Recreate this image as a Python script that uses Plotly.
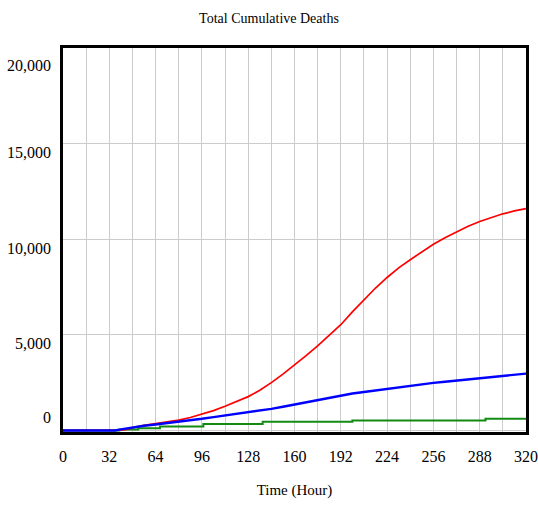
import plotly.graph_objects as go

# ---- data ----
hours = [0, 8, 16, 24, 32, 36, 40, 44, 48, 56, 64, 72, 80, 88, 96, 104, 112, 120, 128, 136,
         144, 152, 160, 168, 176, 184, 192, 200, 208, 216, 224, 232, 240, 248, 256,
         264, 272, 280, 288, 296, 304, 312, 320]

red_deaths = [0, 0, 0, 0, 0, 0, 20, 60, 150, 270, 360, 440, 540, 680, 850, 1040, 1270, 1500,
              1770, 2100, 2500, 2950, 3420, 3910, 4420, 4970, 5530, 6200, 6840, 7450, 8000,
              8500, 8930, 9350, 9740, 10080, 10400, 10680, 10930, 11150, 11330, 11480, 11600]

blue_deaths = [0, 0, 0, 0, 0, 0, 60, 110, 170, 250, 313, 380, 452, 530, 610, 700, 783, 870,
               957, 1040, 1130, 1240, 1357, 1470, 1583, 1720, 1840, 1930, 2010, 2090, 2175,
               2270, 2360, 2430, 2488, 2550, 2610, 2680, 2749, 2820, 2888, 2930, 2975]

green_hours = [0, 39, 52, 67, 97, 138, 200, 292, 320]
green_deaths = [0, 50, 120, 210, 340, 450, 520, 610, 610]

x_tick_vals = [0, 32, 64, 96, 128, 160, 192, 224, 256, 288, 320]
y_tick_vals = [0, 5000, 10000, 15000, 20000]
y_tick_text = ["0", "5,000", "10,000", "15,000", "20,000"]
# label positions as drawn (slightly offset from their gridlines in the reference)
y_label_pos = [700, 4570, 9540, 14510, 19110]

FONT = "Liberation Serif, Times New Roman, serif"

W, H = 538, 507

fig = go.Figure()
fig.add_trace(go.Scatter(x=green_hours, y=green_deaths, mode="lines", name="Run 3",
                         line=dict(color="#138a13", width=2, shape="hv")))
fig.add_trace(go.Scatter(x=hours, y=red_deaths, mode="lines", name="Run 1",
                         line=dict(color="#ff0000", width=1.7)))
fig.add_trace(go.Scatter(x=hours, y=blue_deaths, mode="lines", name="Run 2",
                         line=dict(color="#0000ff", width=2.4)))

for val, pos in zip(y_tick_text, y_label_pos):
    fig.add_annotation(text=val, x=-0.022, xref="paper", xanchor="right",
                       y=pos, yref="y", yanchor="middle", showarrow=False,
                       font=dict(family=FONT, size=16, color="black"))

fig.update_layout(
    width=W, height=H,
    margin=dict(l=63, r=12, t=48, b=75, autoexpand=False),
    paper_bgcolor="white", plot_bgcolor="white",
    showlegend=False,
    title=dict(text="Total Cumulative Deaths", x=269 / W, xref="container", xanchor="center",
               y=1 - 18 / H, yanchor="middle",
               font=dict(family=FONT, size=14, color="black")),
)

fig.update_xaxes(
    range=[0, 320], tickvals=x_tick_vals, ticktext=[str(v) for v in x_tick_vals],
    showgrid=True, gridcolor="#cccccc", gridwidth=1.3,
    minor=dict(dtick=16, showgrid=True, gridcolor="#cccccc", gridwidth=1.3),
    showline=True, linecolor="black", linewidth=2.6, mirror=True,
    ticks="", ticklabelstandoff=8, zeroline=False, automargin=False,
    tickfont=dict(family=FONT, size=16, color="black"),
    title=dict(text="Time (Hour)", font=dict(family=FONT, size=15, color="black"), standoff=21),
    layer="below traces",
)
fig.update_yaxes(
    range=[-80, 20000], tickvals=y_tick_vals, showticklabels=False,
    showgrid=True, gridcolor="#cccccc", gridwidth=1.3,
    showline=True, linecolor="black", linewidth=2.6, mirror=True,
    ticks="", zeroline=False, automargin=False,
    layer="below traces",
)

fig.write_html(
    "out.html",
    config={"displayModeBar": False},
    post_script="document.body.style.margin='0';document.body.style.overflow='hidden';",
)
